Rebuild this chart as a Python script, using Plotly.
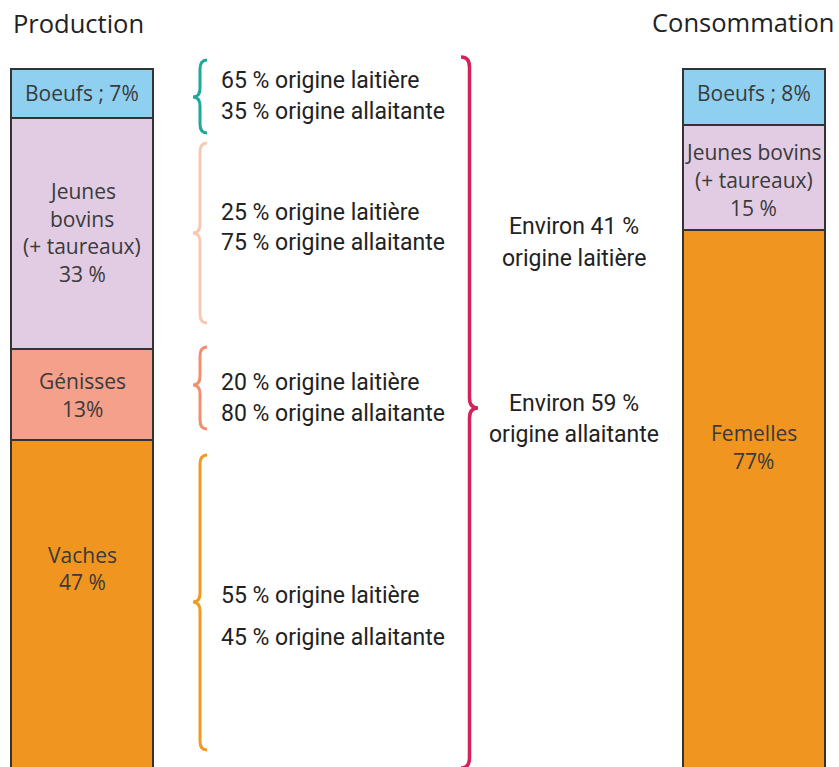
import plotly.graph_objects as go

# ---------------- data ----------------
prod_categories = ["Boeufs", "Jeunes bovins (+ taureaux)", "Génisses", "Vaches"]
prod_values = [7, 33, 13, 47]
prod_labels = [["Boeufs ; 7%"], ["Jeunes", "bovins", "(+ taureaux)", "33 %"],
               ["Génisses", "13%"], ["Vaches", "47 %"]]

cons_categories = ["Boeufs", "Jeunes bovins (+ taureaux)", "Femelles"]
cons_values = [8, 15, 77]
cons_labels = [["Boeufs ; 8%"], ["Jeunes bovins", "(+ taureaux)", "15 %"], ["Femelles", "77%"]]

origine_laitiere = [65, 25, 20, 55]
origine_allaitante = [35, 75, 80, 45]
total_laitiere = 41
total_allaitante = 59

columns = ["Production", "Consommation"]

# ---------------- style ----------------
W, H = 839, 767
seg_colors = {"Boeufs": "#8fd0f0", "Jeunes bovins (+ taureaux)": "#e2cce4",
              "Génisses": "#f4a08a", "Vaches": "#f0951f", "Femelles": "#f0951f"}
brace_colors = ["#1fa898", "#f7c9b5", "#ef8f70", "#f29a20"]
big_brace_color = "#d3235a"
TXT = "#222222"
LBL = "#3a3a3a"
SANS = "Open Sans, Noto Sans, sans-serif"
NARROW = "Roboto, sans-serif"


def px(x):
    return x / W


def py(y):
    return 1 - y / H


fig = go.Figure()
for cat, v in zip(prod_categories, prod_values):
    fig.add_trace(go.Bar(x=[0], y=[v], name=cat, width=0.2115,
                         marker=dict(color=seg_colors[cat], line=dict(color="#333333", width=2)),
                         showlegend=False, hoverinfo="skip"))
for cat, v in zip(cons_categories, cons_values):
    fig.add_trace(go.Bar(x=[1], y=[v], name=cat, width=0.2115,
                         marker=dict(color=seg_colors[cat], line=dict(color="#333333", width=2)),
                         showlegend=False, hoverinfo="skip"))

ann = []


def text(x, y, s, size, font=SANS, color=TXT, anchor="center", weight=None):
    f = dict(size=size, family=font, color=color)
    if weight:
        f["weight"] = weight
    ann.append(dict(x=px(x), y=py(y), xref="paper", yref="paper", text=s, showarrow=False,
                    xanchor=anchor, yanchor="middle", font=f))


# column titles
text(11, 23, columns[0], 25.5, anchor="left")
text(836, 22, columns[1], 25.5, anchor="right")

# bar labels
prod_label_y = [[93], [191, 218.5, 246, 274], [381, 408.5], [555, 582]]
for lines, ys in zip(prod_labels, prod_label_y):
    for s, y in zip(lines, ys):
        text(82, y, s, 21, color=LBL)
cons_label_y = [[93], [152, 180, 208], [433, 461]]
for lines, ys in zip(cons_labels, cons_label_y):
    for s, y in zip(lines, ys):
        text(753.5, y, s, 21, color=LBL)

# origin texts
orig_y = [(80, 112), (212, 243), (382, 413), (595, 637)]
for l, a, (y1, y2) in zip(origine_laitiere, origine_allaitante, orig_y):
    text(219, y1, f"{l} % origine laitière", 23, font=NARROW, anchor="left")
    text(219, y2, f"{a} % origine allaitante", 23, font=NARROW, anchor="left")

text(574, 227, f"Environ {total_laitiere} %", 23, font=NARROW)
text(574, 258, "origine laitière", 23, font=NARROW)
text(574, 403, f"Environ {total_allaitante} %", 23, font=NARROW)
text(574, 434, "origine allaitante", 23, font=NARROW)


# braces
def brace_path(xa, xt, ytop, ybot, ytip, r=10):
    xm = (xa + xt) / 2
    pts = [
        f"M {px(xa)},{py(ytop)}",
        f"Q {px(xm)},{py(ytop)} {px(xm)},{py(ytop + r)}",
        f"L {px(xm)},{py(ytip - r)}",
        f"Q {px(xm)},{py(ytip)} {px(xt)},{py(ytip)}",
        f"Q {px(xm)},{py(ytip)} {px(xm)},{py(ytip + r)}",
        f"L {px(xm)},{py(ybot - r)}",
        f"Q {px(xm)},{py(ybot)} {px(xa)},{py(ybot)}",
    ]
    return " ".join(pts)


shapes = []
brace_geo = [(60, 133, 97), (143, 323, 233), (347, 429, 385), (455, 750, 602)]
for (t, b, tip), c in zip(brace_geo, brace_colors):
    shapes.append(dict(type="path", xref="paper", yref="paper",
                       path=brace_path(207, 193, t, b, tip, r=9),
                       line=dict(color=c, width=3)))
shapes.append(dict(type="path", xref="paper", yref="paper",
                   path=brace_path(461, 478, 57, 768, 408, r=10),
                   line=dict(color=big_brace_color, width=3.5)))

fig.update_layout(
    width=W, height=H, margin=dict(l=0, r=0, t=0, b=0),
    paper_bgcolor="white", plot_bgcolor="white",
    barmode="stack", bargap=0,
    xaxis=dict(range=[-0.1221, 1.1273], visible=False, fixedrange=True),
    yaxis=dict(range=[99.71, -9.857], visible=False, fixedrange=True),
    annotations=ann, shapes=shapes,
)
fig.write_html("out.html", config={"displayModeBar": False},
               post_script="document.body.style.margin='0';document.body.style.overflow='hidden';")
